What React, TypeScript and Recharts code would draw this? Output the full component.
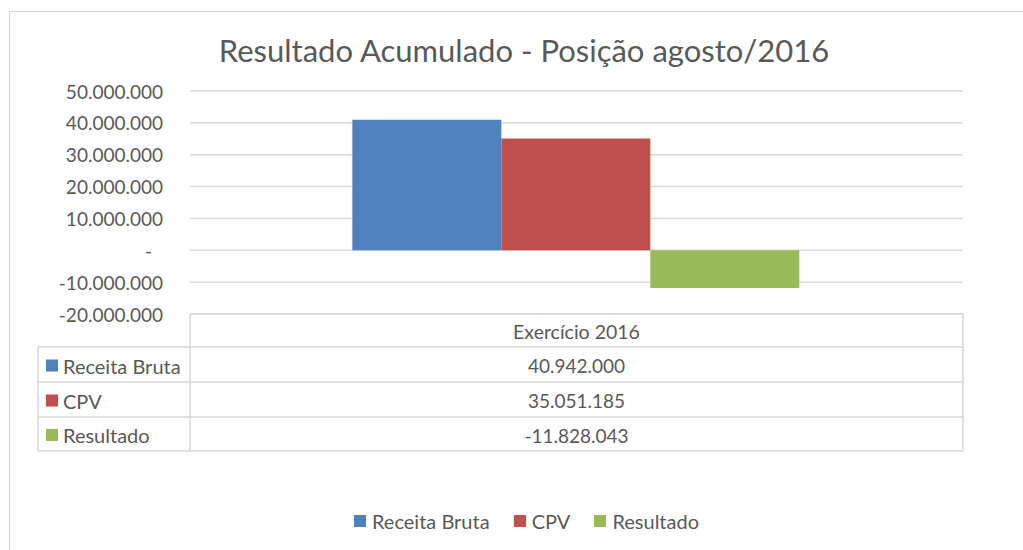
import React from 'react';
import * as R from 'recharts';
import { BarChart, Bar, XAxis, YAxis, CartesianGrid, Customized } from 'recharts';

const categories = ['Exercício 2016'];
const seriesNames = ['Receita Bruta', 'CPV', 'Resultado'];
const receitaBruta = [40942000];
const cpv = [35051185];
const resultado = [-11828043];
const yTicks = [-20000000, -10000000, 0, 10000000, 20000000, 30000000, 40000000, 50000000];
const colors = ['#4F81BD', '#C0504D', '#9BBB59'];
const title = 'Resultado Acumulado - Posição agosto/2016';

const seriesValues = [receitaBruta, cpv, resultado];
const data = categories.map((c, i) => ({
  category: c,
  [seriesNames[0]]: receitaBruta[i],
  [seriesNames[1]]: cpv[i],
  [seriesNames[2]]: resultado[i],
}));

const FONT = 'Lato, "Open Sans", sans-serif';
const TEXT = '#595959';
const LINE = '#D9D9D9';

function fmt(n: number): string {
  const neg = n < 0;
  const s = Math.abs(Math.round(n)).toString().replace(/\B(?=(\d{3})+(?!\d))/g, '.');
  return (neg ? '-' : '') + s;
}

const YTick = (props: any) => {
  const { x, y, payload } = props;
  const v = payload.value;
  const label = v === 0 ? '-' : fmt(v);
  return (
    <text x={v === 0 ? x - 11 : x} y={y} textAnchor="end" dominantBaseline="central"
      fill={TEXT} fontSize={19} fontFamily={FONT}>{label}</text>
  );
};

const TableLayer = () => {
  const usePA = (R as any).usePlotArea;
  const pa = usePA ? usePA() : null;
  const left = pa ? pa.x : 190;
  const right = pa ? pa.x + pa.width : 963;
  const top = pa ? pa.y + pa.height : 314;
  const labelLeft = 38;
  const rowTops = [top, top + 33, top + 68, top + 103, top + 137];
  const cx = (left + right) / 2;
  const els: any[] = [];
  els.push(<line key="ht" x1={left} x2={right} y1={rowTops[0]} y2={rowTops[0]} stroke={LINE} strokeWidth={1.5} />);
  for (let r = 1; r < rowTops.length; r++) {
    els.push(<line key={'h' + r} x1={labelLeft} x2={right} y1={rowTops[r]} y2={rowTops[r]} stroke={LINE} strokeWidth={1.5} />);
  }
  els.push(<line key="v0" x1={labelLeft} x2={labelLeft} y1={rowTops[1]} y2={rowTops[4]} stroke={LINE} strokeWidth={1.5} />);
  els.push(<line key="v1" x1={left} x2={left} y1={rowTops[0]} y2={rowTops[4]} stroke={LINE} strokeWidth={1.5} />);
  els.push(<line key="v2" x1={right} x2={right} y1={rowTops[0]} y2={rowTops[4]} stroke={LINE} strokeWidth={1.5} />);
  els.push(
    <text key="hdr" x={cx} y={(rowTops[0] + rowTops[1]) / 2 + 1} textAnchor="middle" dominantBaseline="central"
      fill={TEXT} fontSize={19.5} fontFamily={FONT}>{categories[0]}</text>
  );
  seriesNames.forEach((name, i) => {
    const my = (rowTops[i + 1] + rowTops[i + 2]) / 2 + 1;
    els.push(<rect key={'sq' + i} x={46} y={my - 6} width={12} height={12} fill={colors[i]} />);
    els.push(
      <text key={'lb' + i} x={63} y={my} dominantBaseline="central" fill={TEXT} fontSize={20} fontFamily={FONT}>{name}</text>
    );
    els.push(
      <text key={'vl' + i} x={cx} y={my} textAnchor="middle" dominantBaseline="central" fill={TEXT} fontSize={19} fontFamily={FONT}>{fmt(seriesValues[i][0])}</text>
    );
  });
  return <g>{els}</g>;
};

export default function App() {
  return (
    <div style={{ position: 'absolute', left: 0, top: 0, width: 1023, height: 550, overflow: 'hidden', background: '#fff', fontFamily: FONT }}>
      <div style={{ position: 'absolute', left: 9, top: 11, width: 1100, height: 700, border: `1.5px solid ${LINE}`, boxSizing: 'border-box' }} />
      <div style={{ position: 'absolute', left: 0, top: 0 }}>
        <BarChart width={1023} height={550} data={data} margin={{ top: 91, right: 60, bottom: 236, left: 0 }}
          barCategoryGap="21%" barGap={0}>
          <text x={524} y={50} textAnchor="middle" dominantBaseline="central" fill={TEXT} fontSize={31} fontFamily={FONT}>{title}</text>
          <CartesianGrid vertical={false} stroke={LINE} strokeWidth={1.5} />
          <XAxis dataKey="category" hide />
          <YAxis width={190} domain={[-20000000, 50000000]} ticks={yTicks} axisLine={false} tickLine={false}
            tickSize={0} tickMargin={27} tick={<YTick />} interval={0} />
          {seriesNames.map((name, i) => (
            <Bar key={name} dataKey={name} fill={colors[i]} isAnimationActive={false} />
          ))}
          <Customized component={<TableLayer />} />
        </BarChart>
      </div>
      <div style={{ position: 'absolute', left: 0, top: 509, width: 1053, display: 'flex', justifyContent: 'center', gap: 24, fontSize: 20, color: TEXT }}>
        {seriesNames.map((name, i) => (
          <div key={name} style={{ display: 'flex', alignItems: 'center' }}>
            <div style={{ width: 12, height: 12, background: colors[i], marginRight: 6 }} />
            <span>{name}</span>
          </div>
        ))}
      </div>
    </div>
  );
}
